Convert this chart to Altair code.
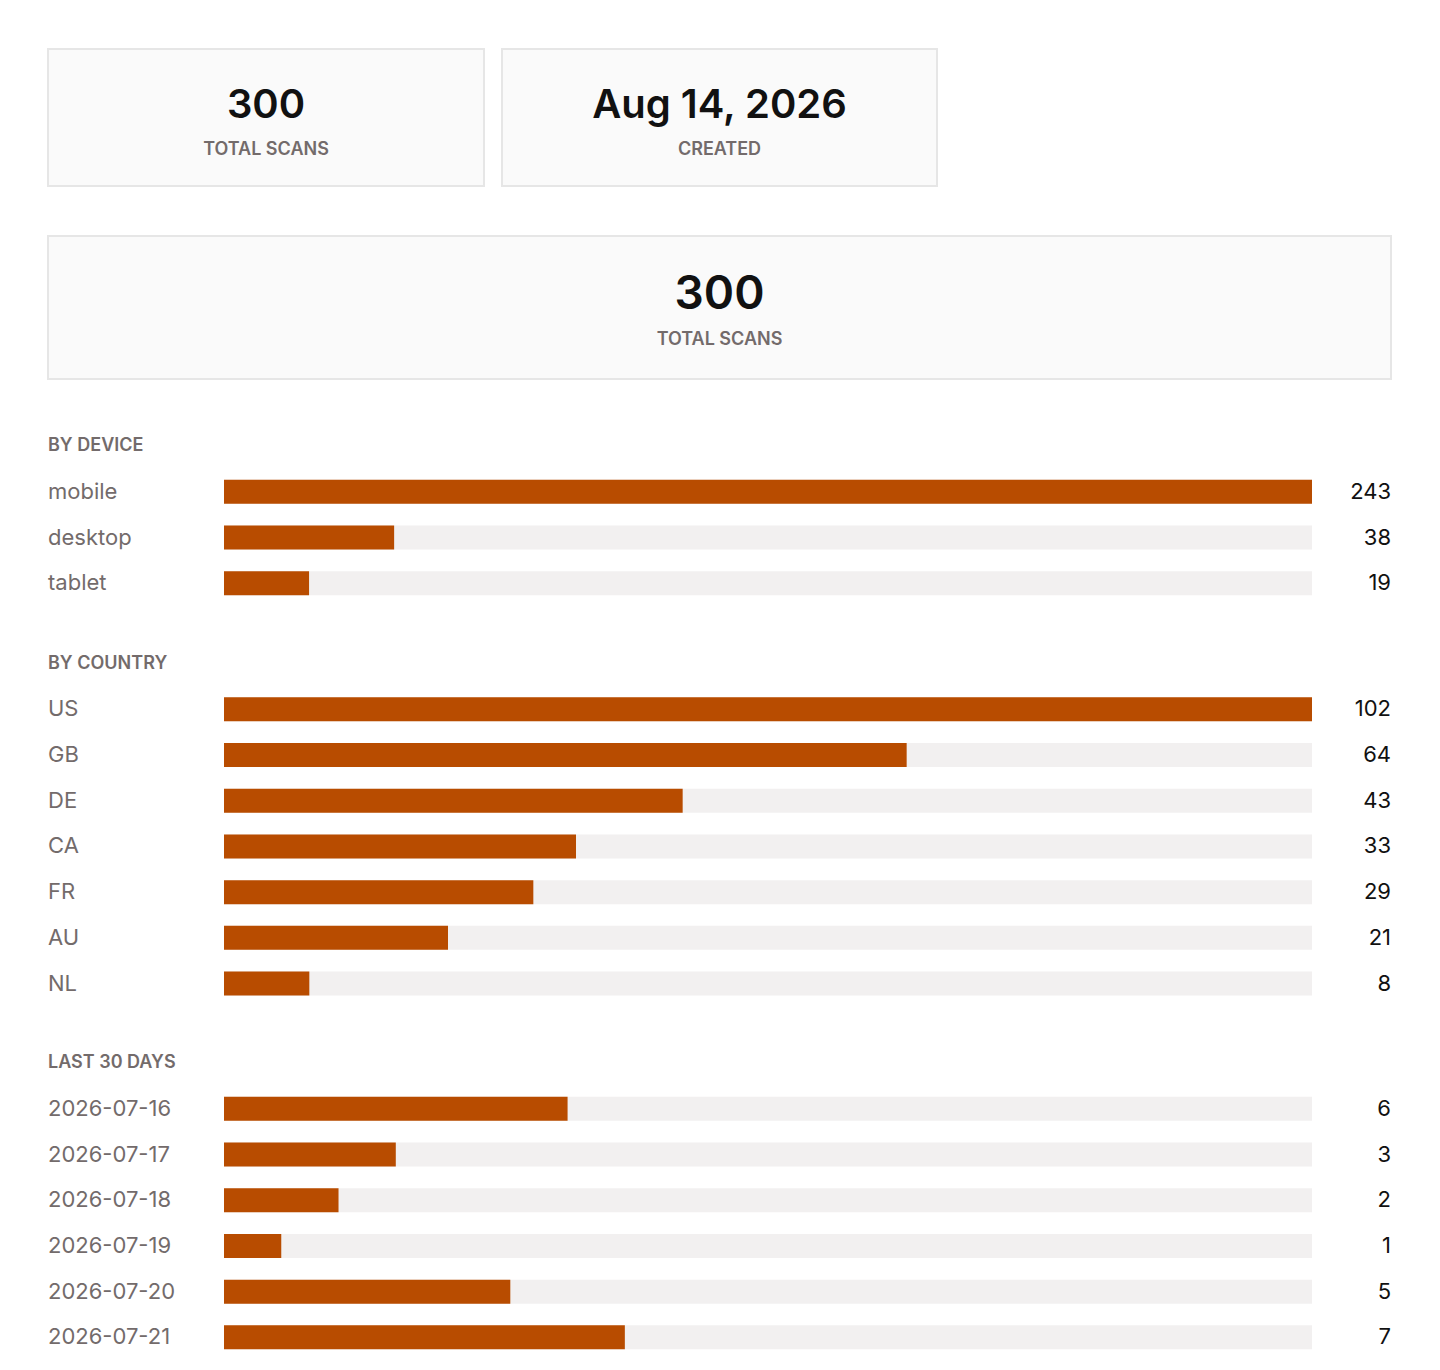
import altair as alt
import pandas as pd

# headline cards
stat_values = ["300", "Aug 14, 2026"]
stat_labels = ["TOTAL SCANS", "CREATED"]
summary_value = "300"
summary_label = "TOTAL SCANS"

# breakdowns
device_names = ["mobile", "desktop", "tablet"]
device_counts = [243, 38, 19]

country_names = ["US", "GB", "DE", "CA", "FR", "AU", "NL"]
country_counts = [102, 64, 43, 33, 29, 21, 8]

day_names = ["2026-07-16", "2026-07-17", "2026-07-18", "2026-07-19", "2026-07-20", "2026-07-21"]
day_counts = [6, 3, 2, 1, 5, 7]
day_max = 19  # busiest day sits below the visible rows

FONT = "Inter"
INK = "#111111"
MUTED = "#736b6b"
BAR = "#b84c00"
TRACK = "#f2f0f0"
CARD_BG = "#fafafa"
CARD_LINE = "#e6e6e6"

PANEL_W = 1343
TRACK_START = 176
TRACK_END = 1264


def stat_card(value, label, width, height, value_size, value_y, label_y):
    """Bordered box with a big number and a small caption under it."""
    df = pd.DataFrame({"value": [value], "label": [label]})
    base = alt.Chart(df)
    big = base.mark_text(
        font=FONT, fontSize=value_size, fontWeight=600, color=INK, baseline="alphabetic"
    ).encode(x=alt.value(width / 2), y=alt.value(value_y), text="value:N")
    small = base.mark_text(
        font=FONT, fontSize=18, fontWeight=600, color=MUTED, baseline="alphabetic"
    ).encode(x=alt.value(width / 2), y=alt.value(label_y), text="label:N")
    return alt.layer(big, small).properties(
        width=width,
        height=height,
        view=alt.ViewBackground(fill=CARD_BG, stroke=CARD_LINE, strokeWidth=2),
    )


def section(title, names, counts, top):
    """Ranked bars on a grey track, name on the left and count on the right."""
    df = pd.DataFrame({"name": names, "count": counts, "top": [top] * len(names)})
    x_scale = alt.Scale(domain=[0, top], range=[TRACK_START, TRACK_END], nice=False, zero=True)
    base = alt.Chart(df).encode(y=alt.Y("name:N", sort=None, title=None, axis=None))
    track = base.mark_bar(color=TRACK, size=24).encode(
        x=alt.X("top:Q", scale=x_scale, axis=None)
    )
    fill = base.mark_bar(color=BAR, size=24).encode(
        x=alt.X("count:Q", scale=x_scale, axis=None)
    )
    name = base.mark_text(
        align="left", baseline="middle", font=FONT, fontSize=22, color=MUTED
    ).encode(x=alt.value(0), text="name:N")
    value = base.mark_text(
        align="right", baseline="middle", font=FONT, fontSize=22, color=INK
    ).encode(x=alt.value(PANEL_W), text="count:Q")
    return alt.layer(track, fill, name, value).properties(
        width=PANEL_W,
        height=alt.Step(45.7),
        view=alt.ViewBackground(stroke="transparent", strokeWidth=0),
        title=alt.TitleParams(
            text=title,
            anchor="start",
            frame="group",
            font=FONT,
            fontSize=18,
            fontWeight=600,
            color=MUTED,
            baseline="alphabetic",
            offset=0,
        ),
    )


cards_row = alt.hconcat(
    stat_card(stat_values[0], stat_labels[0], 436, 137, 40, 69, 106),
    stat_card(stat_values[1], stat_labels[1], 435, 137, 40, 69, 106),
    spacing=16,
)
big_card = stat_card(summary_value, summary_label, PANEL_W, 143, 46, 73, 109)

device = section("BY DEVICE", device_names, device_counts, max(device_counts))
country = section("BY COUNTRY", country_names, country_counts, max(country_counts))
days = section("LAST 30 DAYS", day_names, day_counts, day_max)

top = alt.vconcat(cards_row, big_card, spacing=48)
head = alt.vconcat(top, device, spacing=57)
chart = alt.vconcat(head, country, days, spacing=47.5).properties(
    padding={"left": 39, "top": 40, "right": 40, "bottom": 20}
).configure_view(stroke="transparent", strokeWidth=0).configure(background="white")

chart.save("out.html", embed_options={"renderer": "svg", "actions": False})
